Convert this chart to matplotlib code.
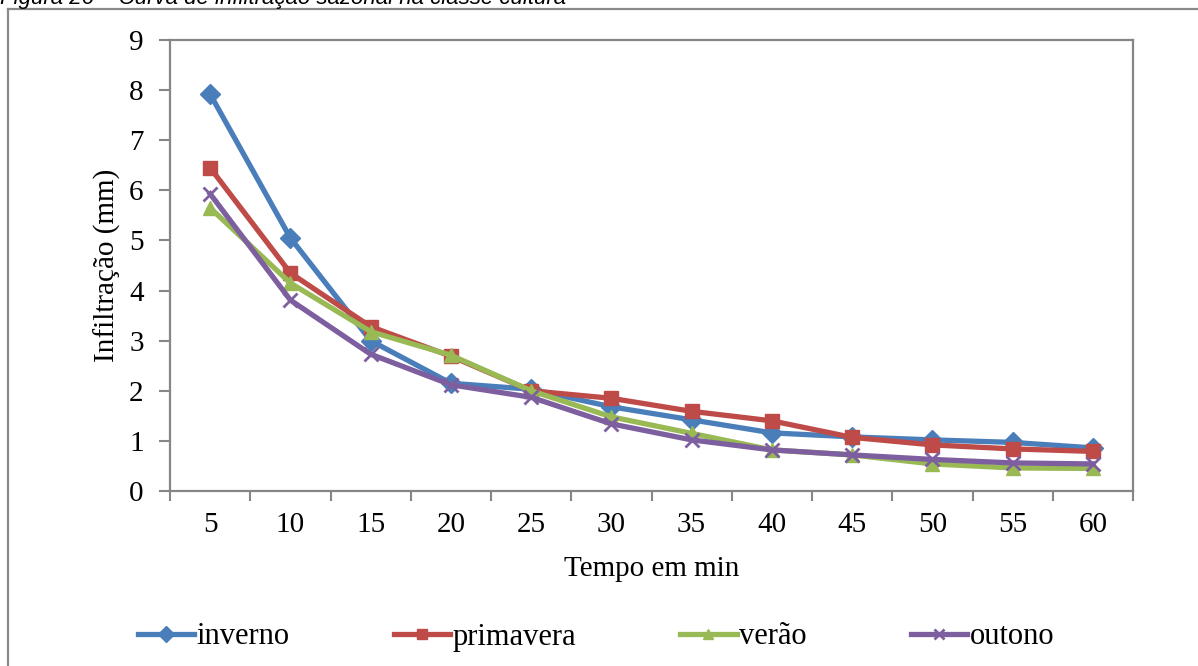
import matplotlib
matplotlib.use("Agg")
import matplotlib.pyplot as plt
from matplotlib.lines import Line2D

tempos = ["5", "10", "15", "20", "25", "30", "35", "40", "45", "50", "55", "60"]
inverno = [7.92, 5.05, 3.00, 2.15, 2.03, 1.68, 1.42, 1.16, 1.08, 1.02, 0.97, 0.86]
primavera = [6.45, 4.35, 3.28, 2.69, 2.00, 1.85, 1.59, 1.40, 1.07, 0.92, 0.84, 0.79]
verao = [5.65, 4.15, 3.18, 2.71, 2.00, 1.48, 1.15, 0.82, 0.72, 0.54, 0.46, 0.45]
outono = [5.93, 3.81, 2.73, 2.12, 1.87, 1.34, 1.02, 0.82, 0.72, 0.63, 0.56, 0.54]
yticks = [0, 1, 2, 3, 4, 5, 6, 7, 8, 9]

W, H = 1198, 666
fig = plt.figure(figsize=(W / 100, H / 100), dpi=100)
serif = ["Liberation Serif", "DejaVu Serif"]
fs = 21

ax = fig.add_axes([170 / W, 1 - 491 / H, (1133 - 170) / W, (491 - 40) / H])
x = list(range(len(tempos)))

series = [
    ("inverno", inverno, "#4A7EBB", "D", 10.5),
    ("primavera", primavera, "#BE4B48", "s", 9.5),
    ("verão", verao, "#98B954", "^", 10.5),
    ("outono", outono, "#7D5FA0", "x", 9.5),
]
handles = []
for name, vals, col, mk, ms in series:
    ln, = ax.plot(x, vals, color=col, lw=3.8, marker=mk, markersize=ms,
                  markeredgewidth=2 if mk == "x" else 1, markeredgecolor=col,
                  markerfacecolor=col, label=name, solid_joinstyle="round")
    handles.append(ln)

ax.set_xlim(-0.5, len(tempos) - 0.5)
ax.set_ylim(0, 9)
ax.set_yticks(yticks)
ax.set_yticklabels([str(v) for v in yticks], fontsize=fs, family=serif)
ax.set_xticks([i - 0.5 for i in range(len(tempos) + 1)])
ax.set_xticklabels([])
ax.set_xticks(x, minor=True)
ax.set_xticklabels(tempos, minor=True, fontsize=fs, family=serif)
ax.tick_params(axis="x", which="minor", length=0, pad=15)
ax.tick_params(axis="x", which="major", length=7, width=1.5, color="#868686", direction="out")
ax.tick_params(axis="y", length=8, width=1.5, color="#868686", direction="out", pad=11)
for s in ax.spines.values():
    s.set_color("#868686")
    s.set_linewidth(1.6)

ax.set_xlabel("Tempo em min", fontsize=fs, family=serif, labelpad=13)
ax.set_ylabel("Infiltração (mm)", fontsize=fs, family=serif, labelpad=6)

leg = fig.legend(handles=handles, loc="center", bbox_to_anchor=(596 / W, 1 - 637 / H),
                 ncol=4, frameon=False, prop={"family": serif, "size": 22},
                 handlelength=1.85, handletextpad=0.08, columnspacing=3.4,
                 borderaxespad=0, markerscale=0.75)

# outer chart border (only left and top visible)
fig.add_artist(Line2D([8 / W, 8 / W], [1 - 9 / H, 0], color="#8a8a8a", lw=1.6,
                      transform=fig.transFigure))
fig.add_artist(Line2D([8 / W, 1], [1 - 9 / H, 1 - 9 / H], color="#8a8a8a", lw=1.6,
                      transform=fig.transFigure))

# clipped caption at top
fig.text(0.0, 1 - 4 / H, "Figura 26 – Curva de infiltração sazonal na classe cultura",
         fontsize=16, family=["Liberation Sans", "DejaVu Sans"], style="italic",
         va="baseline", ha="left")

fig.savefig("out.png", dpi=100)
